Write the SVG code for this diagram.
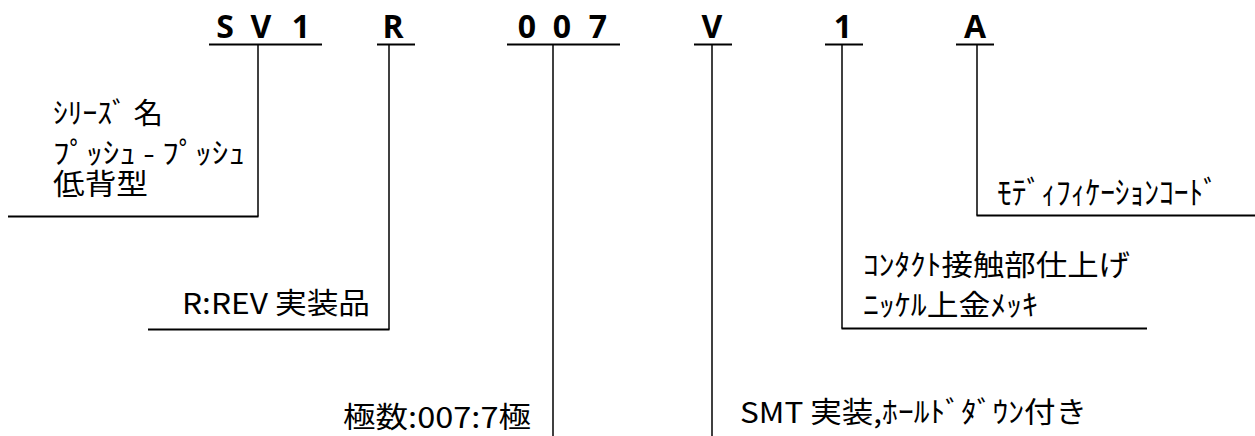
<svg xmlns="http://www.w3.org/2000/svg" width="1255" height="436" viewBox="0 0 1255 436">
<style>
.code{font-family:"Open Sans","DejaVu Sans",sans-serif;font-weight:bold;font-size:32px;fill:#000;text-anchor:middle}
.lbl{font-family:"Noto Sans CJK JP","Noto Sans",sans-serif;font-size:29px;fill:#000}
.k{font-size:32px}
.ul{stroke:#000;stroke-width:2.2;fill:none}
.v{stroke:#000;stroke-width:1.5;fill:none}
.h{stroke:#000;stroke-width:2;fill:none}
</style>
<rect width="1255" height="436" fill="#fff"/>
<g id="code">
<text class="code" x="225" y="38">S</text>
<text class="code" x="261" y="38">V</text>
<text class="code" x="301" y="38">1</text>
<text class="code" x="393" y="38">R</text>
<text class="code" x="527" y="38">0</text>
<text class="code" x="562" y="38">0</text>
<text class="code" x="598" y="38">7</text>
<text class="code" x="712" y="38">V</text>
<text class="code" x="843" y="38">1</text>
<text class="code" x="975" y="38">A</text>
<path class="ul" d="M209 44.5H322M377 44.5H415M507 44.5H620M694 44.5H732M825 44.5H863M956 44.5H994"/>
</g>
<g id="connectors">
<path class="v" d="M258 44.5V216.5"/>
<path class="h" d="M8 216.5H258.5"/>
<path class="v" d="M389 44.5V329.5"/>
<path class="h" d="M148 329.5H389.5"/>
<path class="v" d="M553 44.5V436"/>
<path class="v" d="M712 44.5V436"/>
<path class="v" d="M842 44.5V328.5"/>
<path class="h" d="M841.5 328.5H1147"/>
<path class="v" d="M977 44.5V215.5"/>
<path class="h" d="M976.5 215.5H1255"/>
</g>
<g id="node-series">
<text class="lbl"><tspan x="53" y="124" textLength="110" lengthAdjust="spacingAndGlyphs">ｼﾘｰｽﾞ 名</tspan><tspan x="53" y="164" textLength="192" lengthAdjust="spacingAndGlyphs">ﾌﾟｯｼｭ - ﾌﾟｯｼｭ</tspan><tspan x="53" y="195" textLength="95" lengthAdjust="spacingAndGlyphs">低背型</tspan></text>
</g>
<g id="node-rev">
<text class="lbl" x="182" y="314" textLength="188" lengthAdjust="spacingAndGlyphs">R:REV 実装品</text>
</g>
<g id="node-poles">
<text class="lbl" x="343" y="428" textLength="188" lengthAdjust="spacingAndGlyphs">極数:007:7極</text>
</g>
<g id="node-smt">
<text class="lbl" x="740" y="423" textLength="347" lengthAdjust="spacingAndGlyphs">SMT 実装,ﾎｰﾙﾄﾞﾀﾞｳﾝ付き</text>
</g>
<g id="node-contact">
<text class="lbl" x="863" y="276" textLength="267" lengthAdjust="spacingAndGlyphs">ｺﾝﾀｸﾄ接触部仕上げ</text>
<text class="lbl" x="863" y="316" textLength="175" lengthAdjust="spacingAndGlyphs">ﾆｯｹﾙ上金ﾒｯｷ</text>
</g>
<g id="node-mod">
<text class="lbl k" x="997" y="204" textLength="221" lengthAdjust="spacingAndGlyphs">ﾓﾃﾞｨﾌｨｹｰｼｮﾝｺｰﾄﾞ</text>
</g>
</svg>
